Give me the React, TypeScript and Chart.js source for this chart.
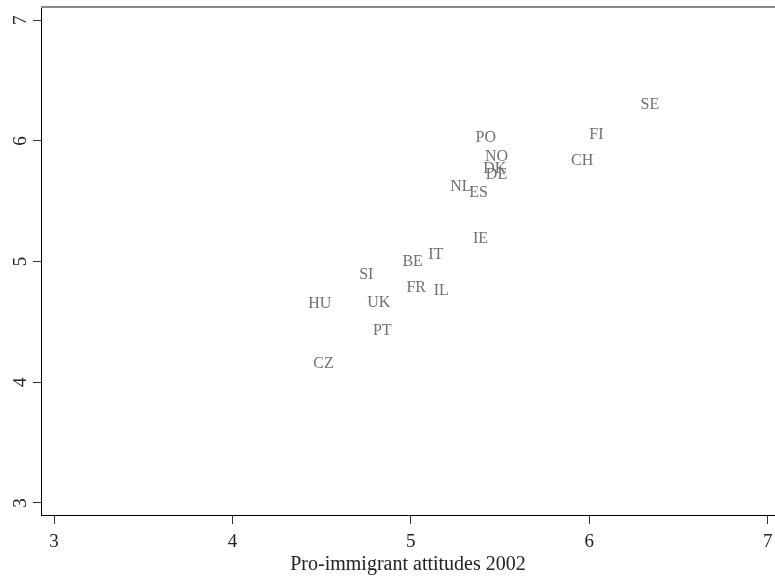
import React, { useEffect, useRef } from "react";
import { Chart, registerables } from "chart.js";

Chart.register(...registerables);

const countries = ["SE", "FI", "PO", "NO", "DK", "DE", "CH", "NL", "ES", "IE", "IT", "BE", "SI", "FR", "IL", "HU", "UK", "PT", "CZ"];
const proImmigrant2002 = [6.34, 6.04, 5.42, 5.48, 5.47, 5.48, 5.96, 5.28, 5.38, 5.39, 5.14, 5.01, 4.75, 5.03, 5.17, 4.49, 4.82, 4.84, 4.51];
const yValues = [6.31, 6.06, 6.04, 5.88, 5.78, 5.73, 5.85, 5.63, 5.58, 5.2, 5.07, 5.01, 4.9, 4.79, 4.77, 4.66, 4.67, 4.44, 4.16];
const xTicks = [3, 4, 5, 6, 7];
const yTicks = [3, 4, 5, 6, 7];
const xTitle = "Pro-immigrant attitudes 2002";

const FONT = "'Liberation Serif', 'Times New Roman', serif";

const labelPlugin = {
  id: "markerLabels",
  afterDatasetsDraw(chart: any) {
    const ctx = chart.ctx;
    const meta = chart.getDatasetMeta(0);
    ctx.save();
    ctx.font = `16px ${FONT}`;
    ctx.fillStyle = "#707070";
    ctx.textAlign = "center";
    ctx.textBaseline = "alphabetic";
    meta.data.forEach((el: any, i: number) => {
      ctx.fillText(countries[i], el.x, el.y + 5.5);
    });
    ctx.restore();
  },
};

const topBorderPlugin = {
  id: "topBorder",
  afterDraw(chart: any) {
    const { ctx, chartArea } = chart;
    ctx.save();
    ctx.strokeStyle = "#8a8a8a";
    ctx.lineWidth = 2;
    ctx.beginPath();
    ctx.moveTo(chartArea.left, chartArea.top);
    ctx.lineTo(chartArea.right, chartArea.top);
    ctx.stroke();
    ctx.restore();
  },
};

const zeroPad = (s: any) => {
  s.paddingTop = 0;
  s.paddingBottom = 0;
  s.paddingLeft = 0;
  s.paddingRight = 0;
};

export default function App() {
  const ref = useRef<HTMLCanvasElement | null>(null);

  useEffect(() => {
    if (!ref.current) return;
    const chart = new Chart(ref.current, {
      type: "scatter",
      data: {
        datasets: [
          {
            data: proImmigrant2002.map((x, i) => ({ x, y: yValues[i] })),
            pointRadius: 0,
            pointHoverRadius: 0,
            backgroundColor: "transparent",
            borderColor: "transparent",
          },
        ],
      },
      options: {
        animation: false,
        responsive: false,
        devicePixelRatio: 1,
        events: [],
        layout: { padding: { top: 7, left: 0, right: 0, bottom: 0 } },
        plugins: {
          legend: { display: false },
          tooltip: { enabled: false },
        },
        scales: {
          x: {
            type: "linear",
            min: 2.927,
            max: 7.041,
            afterBuildTicks: (s: any) => {
              s.ticks = xTicks.map((v) => ({ value: v }));
            },
            afterFit: (s: any) => {
              s.height = 61;
              zeroPad(s);
            },
            grid: { drawOnChartArea: false, drawTicks: true, tickLength: 9, color: "#333", lineWidth: 1 },
            border: { display: true, color: "#000", width: 1 },
            ticks: { font: { family: FONT, size: 19 }, color: "#222", padding: 7, maxRotation: 0, minRotation: 0 },
            title: {
              display: true,
              text: xTitle,
              font: { family: FONT, size: 20 },
              color: "#222",
              padding: { top: 0, bottom: -1 },
            },
          },
          y: {
            type: "linear",
            min: 2.9,
            max: 7.11,
            afterBuildTicks: (s: any) => {
              s.ticks = yTicks.map((v) => ({ value: v }));
            },
            afterFit: (s: any) => {
              s.width = 41;
              zeroPad(s);
            },
            grid: { drawOnChartArea: false, drawTicks: true, tickLength: 8, color: "#333", lineWidth: 1 },
            border: { display: true, color: "#000", width: 1 },
            ticks: {
              font: { family: FONT, size: 19 },
              color: "#222",
              padding: 7,
              minRotation: 90,
              maxRotation: 90,
              crossAlign: "center",
            },
          },
        },
      },
      plugins: [labelPlugin, topBorderPlugin],
    } as any);
    return () => chart.destroy();
  }, []);

  return (
    <div style={{ position: "absolute", left: 0, top: 0, width: 775, height: 576, background: "#fff" }}>
      <canvas ref={ref} width={775} height={576} style={{ display: "block" }} />
    </div>
  );
}
